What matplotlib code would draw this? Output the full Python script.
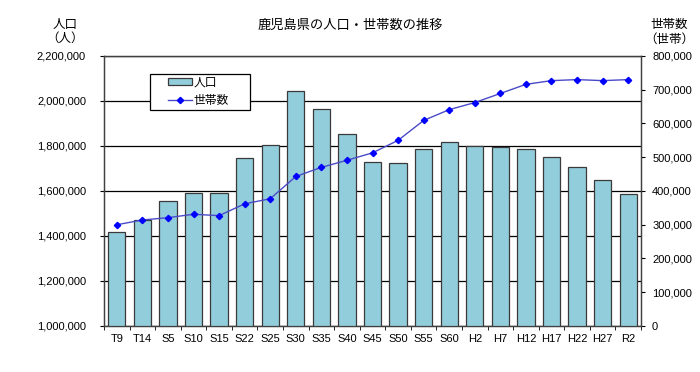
import matplotlib
matplotlib.use("Agg")
import matplotlib.pyplot as plt
import numpy as np
from matplotlib.patches import Patch, Rectangle
from matplotlib.lines import Line2D
from matplotlib.ticker import FuncFormatter, MultipleLocator

plt.rcParams['font.family'] = ['Liberation Sans', 'Noto Sans CJK JP', 'DejaVu Sans']

categories = ["T9", "T14", "S5", "S10", "S15", "S22", "S25", "S30", "S35", "S40", "S45",
              "S50", "S55", "S60", "H2", "H7", "H12", "H17", "H22", "H27", "R2"]
population = [1415582, 1472193, 1556690, 1591466, 1589467, 1746305, 1804118, 2044112,
              1963104, 1853541, 1729150, 1723902, 1784623, 1819270, 1797824, 1794224,
              1786194, 1753179, 1706242, 1648177, 1588256]
households = [300000, 314000, 321000, 331000, 327000, 362000, 377000, 443000, 470000,
              491000, 513000, 550000, 609000, 641000, 662000, 689000, 716000, 727000,
              730000, 727000, 730000]

BAR_COLOR = "#92CDDC"
BAR_EDGE = "#3a3a3a"
LINE_COLOR = "#4a4ac8"
MARKER_COLOR = "#0000ff"

fig = plt.figure(figsize=(7.0, 3.72), dpi=100)
ax = fig.add_axes([0.1486, 0.1237, 0.7671, 0.7258])
ax2 = ax.twinx()

x = np.arange(len(categories))
ax.bar(x, population, width=0.68, color=BAR_COLOR, edgecolor=BAR_EDGE, linewidth=0.9,
       zorder=3)
ax.set_ylim(1000000, 2200000)
ax.set_xlim(-0.5, len(categories) - 0.5)
ax.yaxis.set_major_locator(MultipleLocator(200000))
ax.yaxis.set_major_formatter(FuncFormatter(lambda v, p: f"{int(v):,}"))
ax.grid(axis='y', color="#000000", linewidth=0.9, zorder=0)
ax.set_axisbelow(True)
ax.set_xticks(x)
ax.set_xticklabels(categories, fontsize=8)
ax.set_xticks(np.arange(-0.5, len(categories), 1), minor=True)
ax.tick_params(axis='x', which='major', length=0, pad=6)
ax.tick_params(axis='x', which='minor', length=3, direction='out')
ax.tick_params(axis='y', labelsize=8, length=3, direction='out', pad=10)

ax2.plot(x, households, color=LINE_COLOR, linewidth=1.0, marker="D", markersize=3.2,
         markerfacecolor=MARKER_COLOR, markeredgecolor=MARKER_COLOR, zorder=5)
ax2.set_ylim(0, 800000)
ax2.yaxis.set_major_locator(MultipleLocator(100000))
ax2.yaxis.set_major_formatter(FuncFormatter(lambda v, p: f"{int(v):,}"))
ax2.tick_params(axis='y', labelsize=8, length=3, direction='out', pad=5)

for a in (ax, ax2):
    for s in a.spines.values():
        s.set_color("#404040")
        s.set_linewidth(0.9)

# legend box
box = Rectangle((0.086, 0.800), 0.186, 0.135, transform=ax.transAxes,
                facecolor="white", edgecolor="#000000", linewidth=0.9, zorder=10)
ax2.add_patch(box)
handles = [Patch(facecolor=BAR_COLOR, edgecolor=BAR_EDGE, linewidth=0.9),
           Line2D([0], [0], color=LINE_COLOR, linewidth=1.0, marker="D", markersize=3.2,
                  markerfacecolor=MARKER_COLOR, markeredgecolor=MARKER_COLOR)]
leg = ax2.legend(handles, ["人口", "世帯数"], loc="center left",
                 bbox_to_anchor=(0.086 + 18 / 537, 0.8675), bbox_transform=ax.transAxes,
                 fontsize=8.5, frameon=False, borderpad=0, handlelength=2.0,
                 handleheight=0.45, labelspacing=0.5, handletextpad=0.15,
                 borderaxespad=0)
leg.set_zorder(11)

fig.text(0.5, 0.932, "鹿児島県の人口・世帯数の推移", ha="center", va="center", fontsize=9.5)
fig.text(0.093, 0.933, "人口", ha="center", va="center", fontsize=9)
fig.text(0.093, 0.896, "（人）", ha="center", va="center", fontsize=9)
fig.text(0.956, 0.933, "世帯数", ha="center", va="center", fontsize=9)
fig.text(0.956, 0.893, "（世帯）", ha="center", va="center", fontsize=9)

fig.savefig("out.png", dpi=100, facecolor="white")
